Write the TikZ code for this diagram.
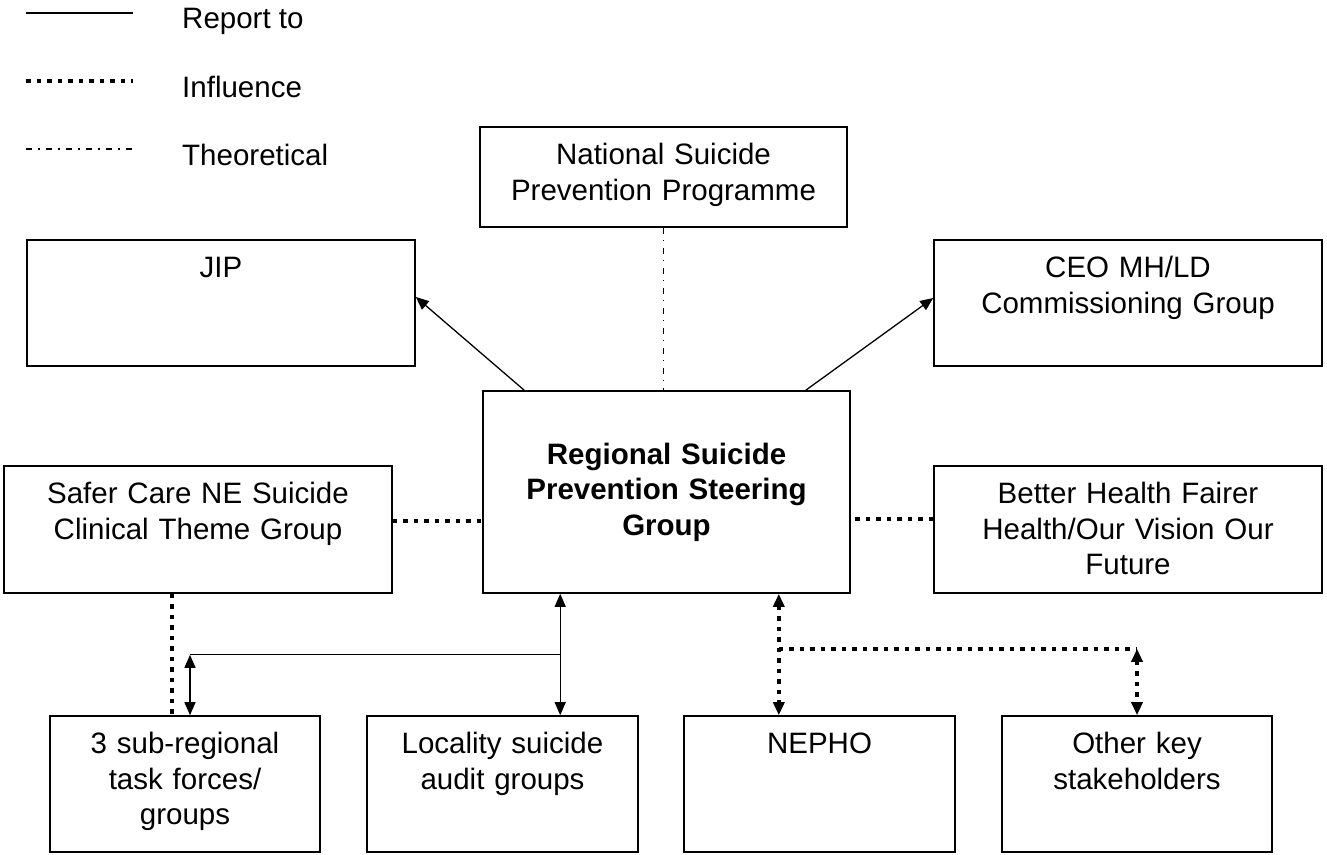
\documentclass[tikz,border=0pt]{standalone}
\usepackage{fontspec}
\setmainfont{Liberation Sans}
\usetikzlibrary{calc,arrows.meta}

\begin{document}
\begin{tikzpicture}[x=1pt,y=-1pt,
    every node/.style={font=\fontsize{29.5pt}{35.5pt}\selectfont,inner sep=0pt},
    box/.style={draw,line width=1.6pt,align=center},
    topbox/.style={box,text height=37.5pt},
    report/.style={line width=1.3pt},
    influence/.style={line width=3.5pt,dash pattern=on 4.5pt off 6pt},
    theory/.style={line width=1.2pt,dash pattern=on 6pt off 6pt on 1.5pt off 6.5pt},
    >={Triangle[length=13pt,width=11pt]}]
    \useasboundingbox (0,0) rectangle (1327,854);
    % legend
    \coordinate (l1a) at (26,13);  \coordinate (l1b) at (133,13);
    \coordinate (l2a) at (26,81);  \coordinate (l2b) at (133,81);
    \coordinate (l3a) at (26,149); \coordinate (l3b) at (133,149);
    \draw [report] (l1a) -- (l1b);
    \draw [influence] (l2a) -- (l2b);
    \draw [theory] (l3a) -- (l3b);
    \node (rep) [anchor=base west] at (182,28) {Report to};
    \node (infl) [anchor=base west] at (182,97) {Influence};
    \node (theo) [anchor=base west] at (182,165) {Theoretical};
    % boxes
    \node (nat) [topbox,text width=367pt,text depth=62.5pt] at (663.5,177) {National Suicide\\Prevention Programme};
    \node (jip) [topbox,text width=388pt,text depth=88.5pt] at (221,303) {JIP};
    \node (ceo) [topbox,text width=388pt,text depth=88.5pt] at (1128,303) {CEO MH/LD\\Commissioning Group};
    \node (reg) [box,text width=367pt,minimum height=202pt] at (666.5,492) {\bfseries Regional Suicide\\Prevention Steering\\Group};
    \node (safer) [topbox,text width=388pt,text depth=89.5pt] at (198,529.5) {Safer Care NE Suicide\\Clinical Theme Group};
    \node (better) [topbox,text width=388pt,text depth=89.5pt] at (1128,529.5) {Better Health Fairer\\Health/Our Vision Our\\Future};
    \node (sub) [topbox,text width=270pt,text depth=98.5pt] at (185,784) {3 sub-regional\\task forces/\\groups};
    \node (loc) [topbox,text width=271pt,text depth=98.5pt] at (502.5,784) {Locality suicide\\audit groups};
    \node (nepho) [topbox,text width=271pt,text depth=98.5pt] at (819.5,784) {NEPHO};
    \node (other) [topbox,text width=270pt,text depth=98.5pt] at (1137,784) {Other key\\stakeholders};
    % report to
    \draw [report,->] ($(reg.north west)+(42,0)$) -- ($(jip.east)+(0,-6)$);
    \draw [report,->] ($(reg.north east)+(-45,0)$) -- ($(ceo.west)+(0,-5)$);
    \coordinate (rl) at ($(reg.south west)+(78,0)$);
    \coordinate (rj) at ($(rl)+(0,61)$);
    \coordinate (sj) at ($(rj -| sub.north)+(5,0)$);
    \draw [report,<->] (rl) -- (rl |- loc.north);
    \draw [report] (rj) -- (sj);
    \draw [report,<->] (sj) -- (sj |- sub.north);
    % theoretical
    \draw [theory] (nat.south) -- (nat.south |- reg.north);
    % influence
    \coordinate (sl) at ($(safer.east)+(0,-8.5)$);
    \coordinate (bl) at ($(better.west)+(0,-10.5)$);
    \coordinate (sd) at ($(safer.south)+(-26,0)$);
    \draw [influence] (sl) -- (sl -| reg.west);
    \draw [influence] (bl) -- (bl -| reg.east);
    \draw [influence] (sd) -- (sd |- sub.north);
    \coordinate (rn) at ($(reg.south east)+(-72,0)$);
    \coordinate (nj) at ($(rn)+(0,55)$);
    \coordinate (oj) at (nj -| other.north);
    \draw [influence,<->] (rn) -- (rn |- nepho.north);
    \draw [influence] (nj) -- (oj);
    \draw [influence,<->] (oj) -- (other.north);
\end{tikzpicture}
\end{document}
